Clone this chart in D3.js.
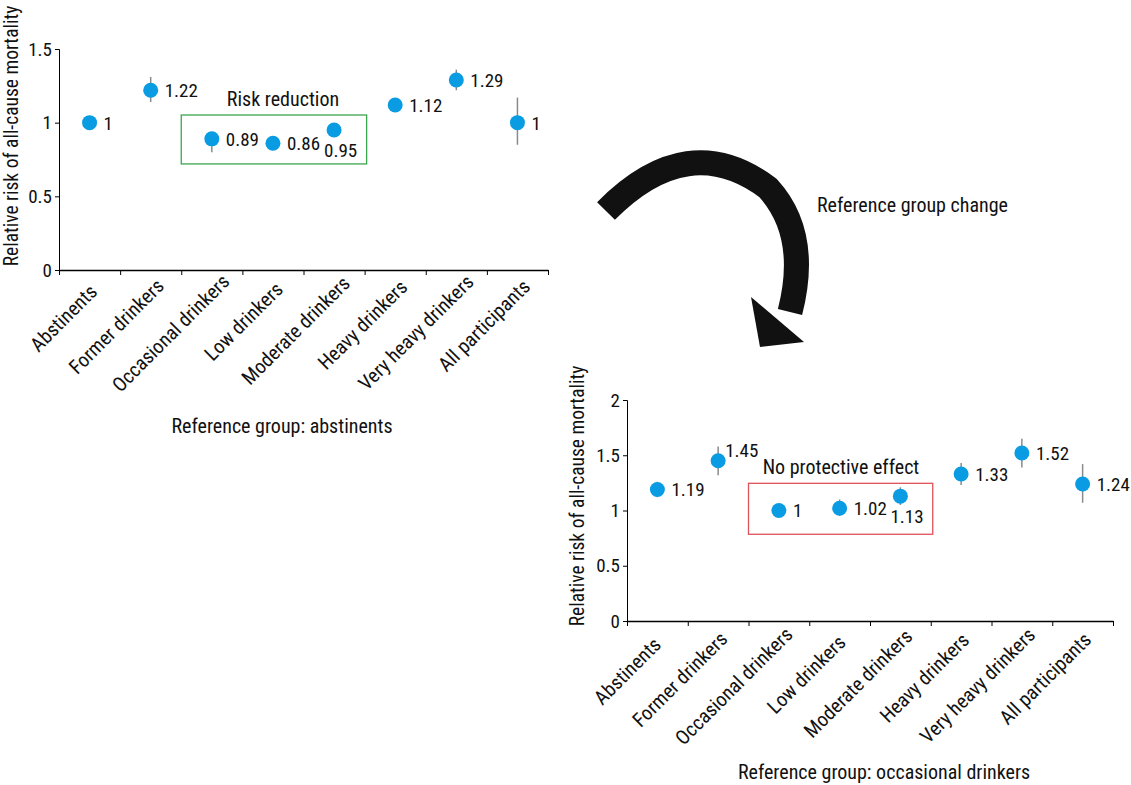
<!DOCTYPE html>
<html>
<head>
<meta charset="utf-8">
<script src="https://cdn.jsdelivr.net/npm/d3@7"></script>
<style>
  body { margin: 0; background: #fff; }
  svg text { font-family: "Liberation Sans Narrow", "Roboto Condensed", "Arial Narrow", sans-serif; fill: #111; }
</style>
</head>
<body>
<div id="chart"></div>
<script>
// categories
const groups = ["Abstinents", "Former drinkers", "Occasional drinkers", "Low drinkers",
  "Moderate drinkers", "Heavy drinkers", "Very heavy drinkers", "All participants"];

// panel A: reference = abstinents
const rrAbst = [1, 1.22, 0.89, 0.86, 0.95, 1.12, 1.29, 1];
const loAbst = [0.97, 1.14, 0.80, 0.83, 0.92, 1.09, 1.22, 0.85];
const hiAbst = [1.03, 1.31, 0.92, 0.89, 0.98, 1.15, 1.36, 1.17];
const labelAbst = ["1", "1.22", "0.89", "0.86", "0.95", "1.12", "1.29", "1"];
const placeAbst = ["r", "r", "r", "r", "b", "r", "r", "r"];
const ticksAbst = [0, 0.5, 1, 1.5];

// panel B: reference = occasional drinkers
const rrOcc = [1.19, 1.45, 1, 1.02, 1.13, 1.33, 1.52, 1.24];
const loOcc = [1.12, 1.32, 0.97, 0.95, 1.05, 1.23, 1.39, 1.07];
const hiOcc = [1.26, 1.58, 1.03, 1.10, 1.21, 1.43, 1.65, 1.42];
const labelOcc = ["1.19", "1.45", "1", "1.02", "1.13", "1.33", "1.52", "1.24"];
const placeOcc = ["r", "a", "r", "r", "b", "r", "r", "r"];
const ticksOcc = [0, 0.5, 1, 1.5, 2];

const yTitle = "Relative risk of all-cause mortality";

var svg = d3.select('#chart').append('svg')
  .attr('width', 1131).attr('height', 785);

function drawPanel(p) {
  var g = svg.append('g');
  const x = d3.scaleBand().domain(groups).range([p.x0, p.x1]);
  const xb = d3.scaleLinear().domain([0, groups.length]).range([p.x0, p.x1]);
  const y = d3.scaleLinear().domain([0, p.ymax]).range([p.y0, p.y1]);
  const cx = i => x(groups[i]) + x.bandwidth() / 2;

  // y axis
  const yAxisG = g.append('g')
    .attr('transform', `translate(${p.x0},0)`)
    .call(d3.axisLeft(y).tickValues(p.ticks).tickSize(4).tickPadding(3).tickFormat(d => d));
  yAxisG.select('.domain').attr('stroke', '#000');
  yAxisG.selectAll('text').style('font-size', '19px');

  // x axis: ticks between the categories
  const xAxisG = g.append('g')
    .attr('transform', `translate(0,${p.y0})`)
    .call(d3.axisBottom(xb).tickValues(d3.range(groups.length + 1)).tickSize(5).tickSizeOuter(0).tickFormat(''));
  xAxisG.select('.domain').attr('stroke', '#000').attr('stroke-width', 1.3);

  // rotated category labels, pinned at ~80% of their length under the category
  g.selectAll('.xlab')
    .data(groups)
    .enter().append('text')
    .attr('class', 'xlab')
    .attr('text-anchor', 'middle')
    .attr('dy', '0.35em')
    .style('font-size', '20px')
    .text(d => d)
    .attr('transform', function(d, i) {
      const k = this.getComputedTextLength() * 0.3 * Math.SQRT1_2;
      return `translate(${cx(i) + p.labShift - k},${p.y0 + p.labGap + k}) rotate(-45)`;
    });

  // annotation box
  g.append('rect')
    .attr('x', x(groups[2]))
    .attr('y', y(p.boxTop))
    .attr('width', x(groups[4]) + x.bandwidth() - x(groups[2]) + 2)
    .attr('height', y(p.boxBottom) - y(p.boxTop))
    .attr('fill', 'none')
    .attr('stroke', p.boxColor)
    .attr('stroke-width', 1.3);
  g.append('text')
    .attr('x', p.boxLabelX)
    .attr('y', y(p.boxTop) - 9)
    .attr('text-anchor', 'middle')
    .style('font-size', '20px')
    .text(p.boxLabel);

  // error bars
  g.selectAll('.err')
    .data(p.rr)
    .enter().append('line')
    .attr('class', 'err')
    .attr('x1', (d, i) => cx(i))
    .attr('x2', (d, i) => cx(i))
    .attr('y1', (d, i) => y(p.lo[i]))
    .attr('y2', (d, i) => y(p.hi[i]))
    .attr('stroke', '#8a8a8a')
    .attr('stroke-width', 1.5);

  g.selectAll('.pt')
    .data(p.rr)
    .enter().append('circle')
    .attr('class', 'pt')
    .attr('cx', (d, i) => cx(i))
    .attr('cy', d => y(d))
    .attr('r', 7.5)
    .attr('fill', '#0a9ce2');

  g.selectAll('.val')
    .data(p.rr)
    .enter().append('text')
    .attr('class', 'val')
    .attr('x', (d, i) => p.place[i] === 'b' ? cx(i) - 10 : p.place[i] === 'a' ? cx(i) + 7 : cx(i) + 14)
    .attr('y', (d, i) => p.place[i] === 'b' ? y(d) + 20 : p.place[i] === 'a' ? y(d) - 11 : y(d))
    .attr('dy', '0.36em')
    .style('font-size', '19px')
    .text((d, i) => p.labels[i]);

  // axis titles
  g.append('text')
    .attr('transform', `translate(${p.yTitleX},${p.yTitleY}) rotate(-90)`)
    .attr('text-anchor', 'middle')
    .style('font-size', '19.5px')
    .text(yTitle);
  g.append('text')
    .attr('x', p.xTitleX)
    .attr('y', p.xTitleY)
    .attr('text-anchor', 'middle')
    .style('font-size', '20px')
    .text(p.xTitle);
}

drawPanel({
  x0: 59, x1: 548, y0: 270, y1: 49, ymax: 1.5, ticks: ticksAbst,
  labGap: 30, labShift: -8,
  rr: rrAbst, lo: loAbst, hi: hiAbst, labels: labelAbst, place: placeAbst,
  boxTop: 1.052, boxBottom: 0.72, boxColor: '#3aa64e', boxLabel: 'Risk reduction', boxLabelX: 283,
  yTitleX: 18, yTitleY: 136, xTitle: 'Reference group: abstinents', xTitleX: 282, xTitleY: 433
});

drawPanel({
  x0: 627, x1: 1113, y0: 621, y1: 400, ymax: 2, ticks: ticksOcc,
  labGap: 32, labShift: -12,
  rr: rrOcc, lo: loOcc, hi: hiOcc, labels: labelOcc, place: placeOcc,
  boxTop: 1.246, boxBottom: 0.785, boxColor: '#e0525a', boxLabel: 'No protective effect', boxLabelX: 841,
  yTitleX: 584, yTitleY: 496, xTitle: 'Reference group: occasional drinkers', xTitleX: 884, xTitleY: 779
});

// curved arrow between the two panels
svg.append('path')
  .attr('d', 'M606,211 Q688,128 768,188 Q810,234 790,312')
  .attr('fill', 'none')
  .attr('stroke', '#111')
  .attr('stroke-width', 25);
svg.append('path')
  .attr('d', 'M751,297 L760,347 L804,342 Z')
  .attr('fill', '#111');
svg.append('text')
  .attr('x', 817)
  .attr('y', 212)
  .style('font-size', '20px')
  .text('Reference group change');
</script>
</body>
</html>
